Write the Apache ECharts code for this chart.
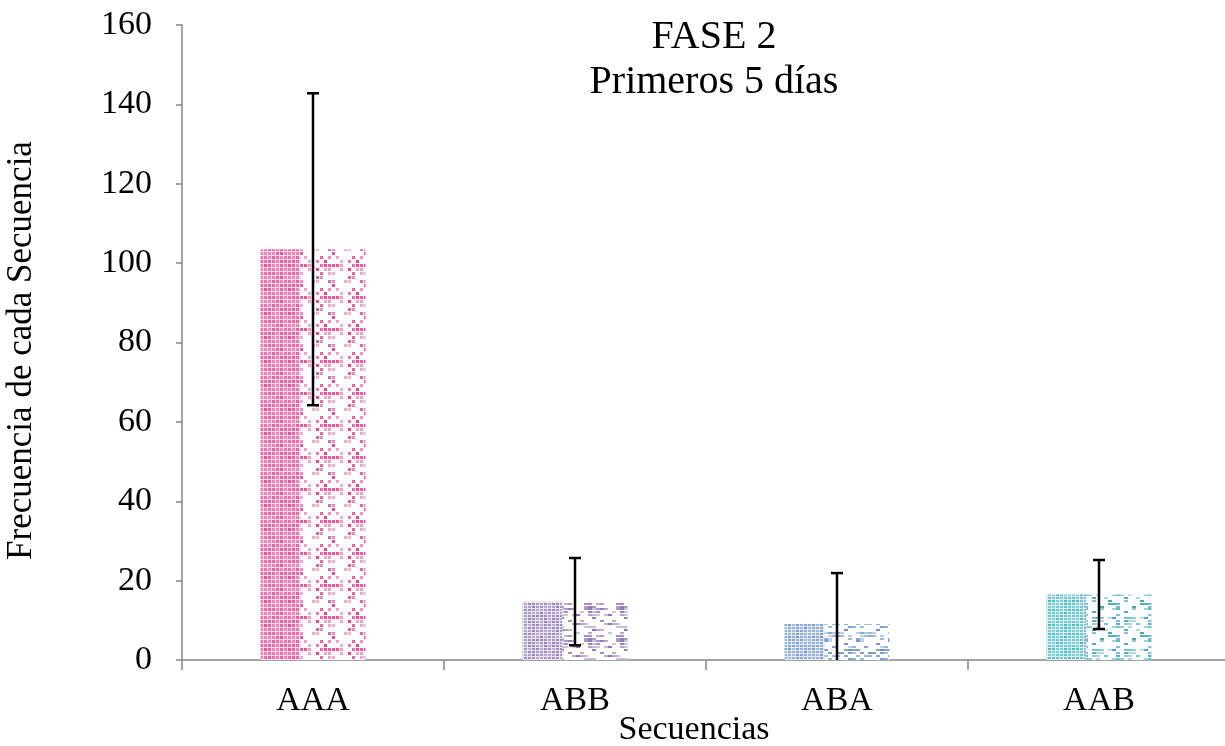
<!DOCTYPE html>
<html>
<head>
<meta charset="utf-8">
<script src="https://cdn.jsdelivr.net/npm/echarts@6/dist/echarts.min.js"></script>
<style>
html,body{margin:0;padding:0;background:#fff;}
#c{width:1225px;height:746px;}
</style>
</head>
<body>
<div id="c"></div>
<script>
const categories = ['AAA', 'ABB', 'ABA', 'AAB'];
const values = [103.5, 14.7, 9.1, 16.5];
const errors = [39.3, 11.0, 12.8, 8.7];
const yTicks = [0, 20, 40, 60, 80, 100, 120, 140, 160];
const barColors = ['#d9478a', '#8a74ad', '#6a8fc4', '#45a9b8'];

function hash(a, b, s) {
  let h = (a * 374761393 + b * 668265263 + s * 1442695040) | 0;
  h = (h ^ (h >>> 13)) * 1274126177 | 0;
  h = h ^ (h >>> 16);
  return ((h >>> 0) % 1000) / 1000;
}
function shade(hex, f) {
  const n = parseInt(hex.slice(1), 16);
  let r = n >> 16, g = (n >> 8) & 255, b = n & 255;
  if (f >= 0) { r += (255 - r) * f; g += (255 - g) * f; b += (255 - b) * f; }
  else { r *= 1 + f; g *= 1 + f; b *= 1 + f; }
  return 'rgb(' + Math.round(r) + ',' + Math.round(g) + ',' + Math.round(b) + ')';
}
function densePattern(color, idx) {
  const c = document.createElement('canvas');
  c.width = 24; c.height = 24;
  const ctx = c.getContext('2d');
  ctx.fillStyle = shade(color, 0.82);
  ctx.fillRect(0, 0, 24, 24);
  const sq = idx === 0;
  for (let y = 0; y < 24; y += (sq ? 4 : 3)) {
    for (let x = 0; x < 24; x += 4) {
      ctx.fillStyle = shade(color, 0.1 + hash(x, y, idx) * 0.3);
      ctx.fillRect(x, y, 3, sq ? 3 : 2);
    }
  }
  return c;
}
function sparsePattern(color, idx) {
  const c = document.createElement('canvas');
  c.width = 32; c.height = 32;
  const ctx = c.getContext('2d');
  ctx.fillStyle = '#ffffff';
  ctx.fillRect(0, 0, 32, 32);
  const sq = idx === 0;
  const stepY = sq ? 4 : 3;
  for (let y = 0; y < 32; y += stepY) {
    for (let x = 0; x < 32; x += 4) {
      const r = hash(x + 7, y + 3, idx + 11);
      if (r < 0.38) {
        ctx.fillStyle = shade(color, hash(x, y, idx + 5) * 0.6);
        ctx.fillRect(x, y, sq ? 3 : 4, sq ? 3 : 2);
      }
    }
  }
  return c;
}

const denseData = values.map((v, i) => ({ value: v, itemStyle: { color: { image: densePattern(barColors[i], i), repeat: 'repeat' } } }));
const sparseData = values.map((v, i) => ({ value: v, itemStyle: { color: { image: sparsePattern(barColors[i], i), repeat: 'repeat' } } }));

const font = '"Liberation Serif", "Times New Roman", serif';
const chart = echarts.init(document.getElementById('c'), null, { renderer: 'canvas' });
chart.setOption({
  animation: false,
  backgroundColor: '#ffffff',
  title: {
    text: 'FASE 2\nPrimeros 5 días',
    left: 709, top: 10, textAlign: 'center',
    textStyle: { fontFamily: font, fontSize: 40, fontWeight: 'normal', color: '#000', lineHeight: 45 }
  },
  grid: { left: 182, right: -5, top: 25, bottom: 86, containLabel: false, outerBoundsMode: 'none' },
  xAxis: {
    type: 'category', data: categories, boundaryGap: true,
    name: 'Secuencias', nameLocation: 'middle', nameGap: 53, nameMoveOverlap: false,
    nameTextStyle: { fontFamily: font, fontSize: 34, color: '#000', padding: [0, 24, 0, 0] },
    axisLine: { lineStyle: { color: '#868686', width: 1.5 } },
    axisTick: { show: true, length: 10, lineStyle: { color: '#868686', width: 1.5 } },
    axisLabel: { fontFamily: font, fontSize: 34, color: '#000', margin: 24 }
  },
  yAxis: {
    type: 'value', min: yTicks[0], max: yTicks[yTicks.length - 1], interval: 20,
    name: 'Frecuencia de cada Secuencia', nameLocation: 'middle', nameGap: 143, nameMoveOverlap: false,
    nameTextStyle: { fontFamily: font, fontSize: 35, color: '#000', padding: [0, 16, 0, 0] },
    axisLine: { show: true, lineStyle: { color: '#868686', width: 1.5 } },
    axisTick: { show: true, length: 6, lineStyle: { color: '#868686', width: 1.5 } },
    splitLine: { show: false },
    axisLabel: { fontFamily: font, fontSize: 34, color: '#000', margin: 30 }
  },
  series: [
    { type: 'bar', data: denseData, barWidth: 40, barGap: '0%' },
    { type: 'bar', data: sparseData, barWidth: 65, barGap: '0%' },
    {
      type: 'custom', clip: true, z: 10,
      data: values.map((v, i) => [i, v, errors[i]]),
      renderItem: function (params, api) {
        const i = api.value(0), v = api.value(1), e = api.value(2);
        const top = api.coord([i, v + e]);
        const bot = api.coord([i, v - e]);
        const hw = 6;
        const st = { stroke: '#000', lineWidth: 2.5 };
        return {
          type: 'group',
          children: [
            { type: 'line', shape: { x1: top[0], y1: top[1], x2: bot[0], y2: bot[1] }, style: st },
            { type: 'line', shape: { x1: top[0] - hw, y1: top[1], x2: top[0] + hw, y2: top[1] }, style: st },
            { type: 'line', shape: { x1: bot[0] - hw, y1: bot[1], x2: bot[0] + hw, y2: bot[1] }, style: st }
          ]
        };
      }
    }
  ]
});
</script>
</body>
</html>
